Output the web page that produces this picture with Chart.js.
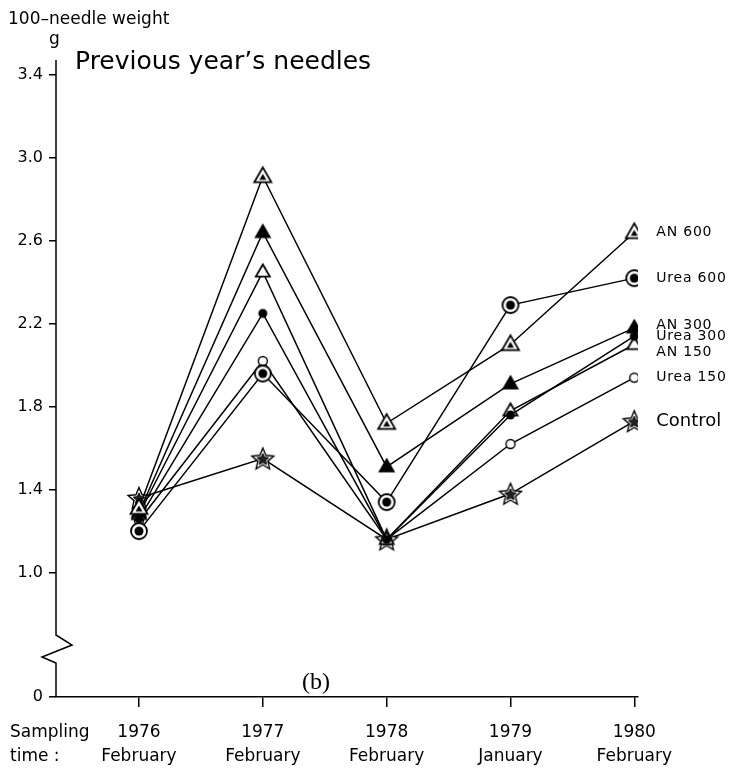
<!DOCTYPE html>
<html>
<head>
<meta charset="utf-8">
<script src="https://cdn.jsdelivr.net/npm/chart.js@4.4.1/dist/chart.umd.min.js"></script>
<style>
  html, body { margin: 0; padding: 0; background: #fff; }
  #wrap { width: 729px; height: 774px; position: relative; }
</style>
</head>
<body>
<div id="wrap"><canvas id="c" width="729" height="774"></canvas></div>
<script>
// sampling times
const years  = ['1976', '1977', '1978', '1979', '1980'];
const months = ['February', 'February', 'February', 'January', 'February'];

// 100-needle weight (g), previous year's needles
const an600   = [1.31, 2.91, 1.72, 2.10, 2.64];
const urea600 = [1.20, 1.96, 1.34, 2.29, 2.42];
const an300   = [1.29, 2.64, 1.51, 1.91, 2.18];
const urea300 = [1.26, 2.25, 1.16, 1.76, 2.14];
const an150   = [1.28, 2.45, 1.16, 1.78, 2.10];
const urea150 = [1.25, 2.02, 1.16, 1.62, 1.94];
const control = [1.36, 1.55, 1.16, 1.38, 1.73];

const seriesNames = ['AN 600', 'Urea 600', 'AN 300', 'Urea 300', 'AN 150', 'Urea 150', 'Control'];

// y tick values; the lowest one stands for the broken-axis zero
const yTicks = [0.4, 1.0, 1.4, 1.8, 2.2, 2.6, 3.0, 3.4];

const FONT = '"DejaVu Sans", sans-serif';

// ---- marker images ----
function tri(ctx, cx, cy, s) {
  const h = s * 0.87;
  ctx.beginPath();
  ctx.moveTo(cx, cy - h * 0.62);
  ctx.lineTo(cx + s / 2, cy + h * 0.38);
  ctx.lineTo(cx - s / 2, cy + h * 0.38);
  ctx.closePath();
}
function starPath(ctx, cx, cy, ro, ri) {
  ctx.beginPath();
  for (let i = 0; i < 10; i++) {
    const r = i % 2 ? ri : ro;
    const a = -Math.PI / 2 + i * Math.PI / 5;
    ctx.lineTo(cx + r * Math.cos(a), cy + r * Math.sin(a));
  }
  ctx.closePath();
}
function marker(kind) {
  const c = document.createElement('canvas');
  c.width = 26; c.height = 26;
  const g = c.getContext('2d');
  const m = 13;
  g.strokeStyle = '#000'; g.fillStyle = '#fff'; g.lineWidth = 1.8;
  g.lineJoin = 'miter';
  if (kind === 'triDot') {
    tri(g, m, m, 17); g.fill(); g.stroke();
    g.fillStyle = '#000'; tri(g, m, m + 1, 7); g.fill();
  } else if (kind === 'circDot') {
    g.beginPath(); g.arc(m, m, 8, 0, Math.PI * 2); g.fill(); g.stroke();
    g.fillStyle = '#000'; g.beginPath(); g.arc(m, m, 4.5, 0, Math.PI * 2); g.fill();
  } else if (kind === 'triFill') {
    g.fillStyle = '#000'; tri(g, m, m, 14); g.fill(); g.stroke();
  } else if (kind === 'dotFill') {
    g.fillStyle = '#000'; g.beginPath(); g.arc(m, m, 4.5, 0, Math.PI * 2); g.fill();
  } else if (kind === 'triOpen') {
    tri(g, m, m, 14); g.fill(); g.stroke();
  } else if (kind === 'dotOpen') {
    g.lineWidth = 1.4;
    g.beginPath(); g.arc(m, m, 4.5, 0, Math.PI * 2); g.fill(); g.stroke();
  } else if (kind === 'star') {
    g.lineWidth = 1.4;
    starPath(g, m, m + 1, 11.5, 5.2); g.fill(); g.stroke();
    g.fillStyle = '#222'; g.lineWidth = 1;
    starPath(g, m, m + 1, 6, 2.8); g.fill(); g.stroke();
  }
  return c;
}
const markerKinds = ['triDot', 'circDot', 'triFill', 'dotFill', 'triOpen', 'dotOpen', 'star'];
const seriesData = [an600, urea600, an300, urea300, an150, urea150, control];

const datasets = seriesData.map((vals, k) => ({
  label: seriesNames[k],
  data: vals.map((v, i) => ({ x: i, y: v })),
  borderColor: '#000',
  borderWidth: 1.5,
  pointStyle: marker(markerKinds[k]),
  pointRadius: 8,
  tension: 0,
  fill: false
}));

// ---- extra drawing: axis with break, titles, series labels ----
const labelDy = [0, 0, -3, 0, 8, 0, 0]; // nudge the crowded 1980 labels apart
const decor = {
  id: 'decor',
  afterDraw(chart) {
    const { ctx, scales: { x, y } } = chart;
    ctx.save();
    // y axis with zigzag break
    const ax = x.left;
    ctx.strokeStyle = '#000'; ctx.lineWidth = 1.5;
    ctx.beginPath();
    ctx.moveTo(ax, y.top);
    ctx.lineTo(ax, 635);
    ctx.lineTo(ax + 16, 645);
    ctx.lineTo(ax - 14, 657);
    ctx.lineTo(ax, 663);
    ctx.lineTo(ax, y.bottom);
    ctx.stroke();

    ctx.fillStyle = '#000';
    ctx.textBaseline = 'middle';
    ctx.textAlign = 'left';
    ctx.font = '17px ' + FONT;
    ctx.fillText('100\u2013needle weight', 8, 20);
    ctx.fillText('g', 49, 40);
    ctx.font = '25px ' + FONT;
    ctx.fillText('Previous year\u2019s needles', 75, 62);
    ctx.font = '17px ' + FONT;
    ctx.fillText('Sampling', 10, 733);
    ctx.fillText('time :', 10, 757);
    ctx.font = '24px "Liberation Serif", serif';
    ctx.fillText('(b)', 302, 683);

    // series labels at the right end
    const lx = x.getPixelForValue(years.length - 1) + 22;
    seriesData.forEach((vals, k) => {
      const py = y.getPixelForValue(vals[vals.length - 1]) + labelDy[k];
      ctx.font = (k === 6 ? '18px ' : '14px ') + FONT;
      ctx.letterSpacing = k === 6 ? '0px' : '0.8px';
      ctx.fillText(seriesNames[k], lx, py);
    });
    ctx.restore();
  }
};

new Chart(document.getElementById('c'), {
  type: 'line',
  data: { datasets },
  options: {
    responsive: false,
    animation: false,
    layout: { padding: { left: 0, top: 60, right: 91, bottom: 0 } },
    plugins: { legend: { display: false }, tooltip: { enabled: false } },
    scales: {
      x: {
        type: 'linear',
        min: -0.67, max: 4.03,
        afterFit: (s) => { s.height = 77; },
        afterBuildTicks: (s) => { s.ticks = years.map((_, i) => ({ value: i })); },
        border: { display: true, color: '#000', width: 1.5 },
        grid: { drawOnChartArea: false, drawTicks: true, tickLength: 10, color: '#000', lineWidth: 1.5 },
        ticks: {
          color: '#000', padding: 14, maxRotation: 0, autoSkip: false,
          font: { family: FONT, size: 17, lineHeight: 1.4 },
          callback: (v) => [years[v], months[v]]
        }
      },
      y: {
        min: 0.4, max: 3.472,
        afterFit: (s) => { s.width = 56; },
        afterBuildTicks: (s) => { s.ticks = yTicks.map(v => ({ value: v })); },
        border: { display: false },
        grid: { drawOnChartArea: false, drawTicks: true, tickLength: 7, color: '#000', lineWidth: 1.5 },
        ticks: {
          color: '#000', padding: 6, autoSkip: false,
          font: { family: FONT, size: 16 },
          callback: (v) => (v < 0.5 ? '0' : v.toFixed(1))
        }
      }
    }
  },
  plugins: [decor]
});
</script>
</body>
</html>
